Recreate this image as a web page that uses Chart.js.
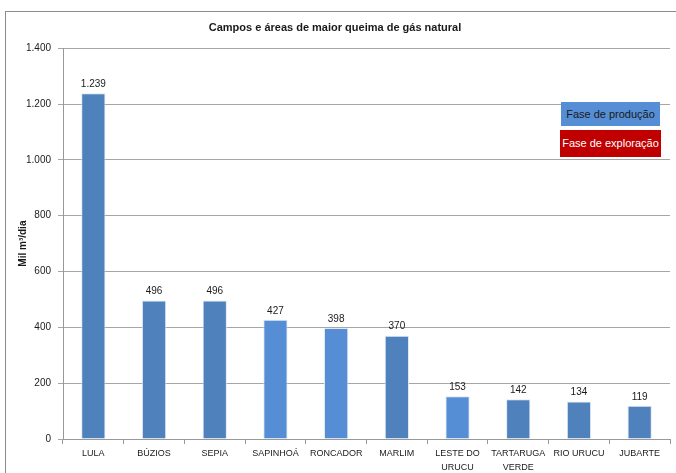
<!DOCTYPE html>
<html>
<head>
<meta charset="utf-8">
<script src="https://cdn.jsdelivr.net/npm/chart.js@4"></script>
<style>
  html, body { margin: 0; padding: 0; background: #fff; overflow: hidden; }
  #wrap { position: relative; width: 676px; height: 473px; }
  #frame { position: absolute; left: 5px; top: 11px; width: 700px; height: 500px; border: 1px solid #8c8c8c; box-sizing: border-box; }
  canvas { position: absolute; left: 0; top: 0; }
  .key { position: absolute; font-family: 'Liberation Sans', Arial, sans-serif; font-size: 11px; text-align: center; white-space: nowrap; }
  .prod { left: 561px; top: 102px; width: 99px; height: 24px; line-height: 24px; background: #558ed5; color: #1a1a1a; }
  .expl { left: 560px; top: 130px; width: 101px; height: 27px; line-height: 27px; background: #c00000; color: #fff; }
</style>
</head>
<body>
<div id="wrap">
  <div id="frame"></div>
  <canvas id="chart" width="676" height="473"></canvas>
  <div class="key prod">Fase de produção</div>
  <div class="key expl">Fase de exploração</div>
</div>
<script>
const campos = ['LULA', 'BÚZIOS', 'SEPIA', 'SAPINHOÁ', 'RONCADOR', 'MARLIM', ['LESTE DO', 'URUCU'], ['TARTARUGA', 'VERDE'], 'RIO URUCU', 'JUBARTE'];
const queima = [1239, 496, 496, 427, 398, 370, 153, 142, 134, 119];
const corBarra = ['#4f81bd', '#4f81bd', '#4f81bd', '#558ed5', '#558ed5', '#4f81bd', '#558ed5', '#4f81bd', '#4f81bd', '#4f81bd'];
const ticksY = [0, 200, 400, 600, 800, 1000, 1200, 1400];

const fonte = "'Liberation Sans', Arial, sans-serif";

function fmt(v) {
  return String(v).replace(/\B(?=(\d{3})+(?!\d))/g, '.');
}

// rótulos de valor acima das barras
const rotulos = {
  id: 'rotulos',
  afterDatasetsDraw(chart) {
    const ctx = chart.ctx;
    const meta = chart.getDatasetMeta(0);
    ctx.save();
    ctx.font = '10px ' + fonte;
    ctx.fillStyle = '#1a1a1a';
    ctx.textAlign = 'center';
    ctx.textBaseline = 'bottom';
    meta.data.forEach((bar, i) => {
      ctx.fillText(fmt(queima[i]), bar.x, bar.y - 4);
    });
    ctx.restore();
  }
};

new Chart(document.getElementById('chart'), {
  type: 'bar',
  data: {
    labels: campos,
    datasets: [{
      data: queima,
      backgroundColor: corBarra,
      borderColor: 'rgba(220,230,242,0.9)',
      borderWidth: 1,
      barPercentage: 0.8,
      categoryPercentage: 0.5
    }]
  },
  options: {
    responsive: false,
    animation: false,
    layout: { padding: { left: 0, right: 6, top: 0, bottom: 0 } },
    plugins: {
      legend: { display: false },
      tooltip: { enabled: false },
      title: {
        display: true,
        text: 'Campos e áreas de maior queima de gás natural',
        color: '#1a1a1a',
        font: { family: fonte, size: 11, weight: 'bold' },
        padding: { top: 21, bottom: 14 }
      }
    },
    scales: {
      x: {
        grid: { display: true, drawOnChartArea: false, color: '#999', tickLength: 5 },
        border: { color: '#999' },
        ticks: { color: '#1a1a1a', font: { family: fonte, size: 9, lineHeight: 1.5 }, padding: 3, maxRotation: 0, autoSkip: false },
        afterFit(s) { s.height = 34; }
      },
      y: {
        min: 0,
        max: 1400,
        afterBuildTicks(s) { s.ticks = ticksY.map(v => ({ value: v })); },
        grid: { color: '#a6a6a6', tickLength: 5 },
        border: { color: '#999' },
        ticks: { color: '#1a1a1a', font: { family: fonte, size: 10 }, padding: 7, callback: v => fmt(v) },
        title: {
          display: true,
          text: 'Mil m³/dia',
          color: '#1a1a1a',
          font: { family: fonte, size: 10, weight: 'bold' },
          padding: { top: 17, bottom: 0 }
        },
        afterFit(s) { s.width = 63; }
      }
    }
  },
  plugins: [rotulos]
});
</script>
</body>
</html>
